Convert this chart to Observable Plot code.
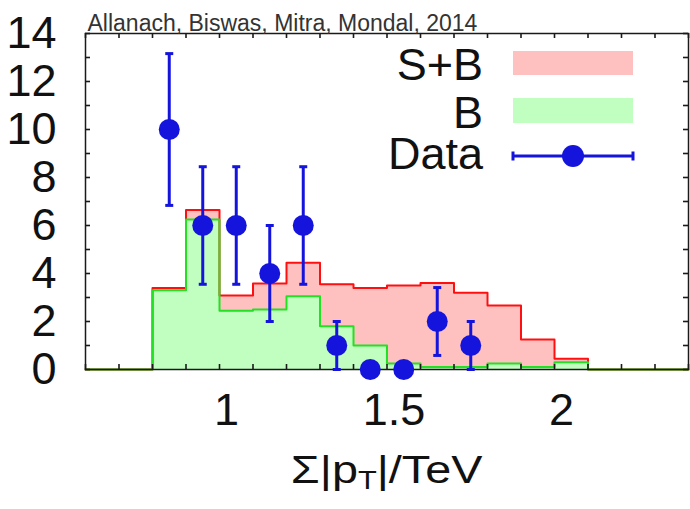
<!DOCTYPE html>
<html>
<head>
<meta charset="utf-8">
<script src="https://cdn.jsdelivr.net/npm/d3@7"></script>
<script src="https://cdn.jsdelivr.net/npm/@observablehq/plot@0.6"></script>
<style>
  html, body { margin: 0; padding: 0; background: #fff; }
  #wrap { position: relative; width: 690px; height: 509px; font-family: "Liberation Sans", Arial, sans-serif; }
  #xlabel { position: absolute; left: 85px; width: 603px; top: 449px; text-align: center; font-size: 38px; color: #111; transform: scaleX(1.23); transform-origin: 301px 0; }
  #xlabel sub { font-size: 25px; vertical-align: -0.25em; line-height: 0; }
  .leg { position: absolute; }
  .legtxt { position: absolute; font-size: 45px; color: #111; text-align: right; width: 200px; left: 283px; line-height: 40px; height: 40px; }
</style>
</head>
<body>
<div id="wrap">
  <div id="chart"></div>
  <div id="xlabel">Σ|p<sub>T</sub>|/TeV</div>
  <div id="legend"></div>
</div>
<script>
// Bin lower edges (TeV), width 0.1
const binEdges = [0.6,0.7,0.8,0.9,1.0,1.1,1.2,1.3,1.4,1.5,1.6,1.7,1.8,1.9,2.0,2.1,2.2,2.3,2.4];
// S+B histogram (events per bin)
const sbValues = [0,0,3.4,6.65,3.08,3.58,4.45,3.55,3.4,3.5,3.6,3.2,2.67,1.25,0.45,0,0,0];
// B histogram
const bValues  = [0,0,3.3,6.25,2.45,2.5,3.05,1.8,1.0,0.25,0.1,0.1,0.25,0.1,0.3,0,0,0];
// Data points (bin centres), counts and errors sqrt(N)
const dataX = [0.85,0.95,1.05,1.15,1.25,1.35,1.45,1.55,1.65,1.75];
const dataN = [10,6,6,4,6,1,0,0,2,1];
const yTicks = [0,2,4,6,8,10,12,14];
const xTickLabels = [1,1.5,2];
const legendLabels = ["S+B","B","Data"];

const pink = "#ffc0c0", lightGreen = "#c0ffc0", red = "#ff1010", green = "#22e022", blue = "#1414dc";

function steps(vals) {
  const pts = vals.map((v, i) => ({x: binEdges[i], y: v}));
  pts.push({x: binEdges[vals.length], y: vals[vals.length - 1]});
  return pts;
}
const sb = steps(sbValues);
const bg = steps(bValues);
const data = dataX.map((x, i) => ({x, n: dataN[i], err: Math.sqrt(dataN[i])}));
const withErr = data.filter(d => d.err > 0);

const capSymbol = {
  draw(ctx, size) { const w = Math.sqrt(size / Math.PI); ctx.moveTo(-w, 0); ctx.lineTo(w, 0); }
};

const minorX = d3.range(6, 25).map(d => d / 10);
const minorY = d3.range(0, 15);
const W = 690, H = 445, mL = 85, mR = 2, mT = 33, mB = 76;
const fw = W - mL - mR, fh = H - mT - mB;
const tk = 5, axisColor = "#1a1a1a";

const plot = Plot.plot({
  width: W, height: H,
  marginLeft: mL, marginRight: mR, marginTop: mT, marginBottom: mB,
  style: {fontFamily: "Liberation Sans, Arial, sans-serif", color: "#111", background: "white"},
  x: {domain: [0.6, 2.4], axis: null},
  y: {domain: [0, 14], axis: null},
  marks: [
    Plot.areaY(sb, {x: "x", y: "y", curve: "step-after", fill: pink}),
    Plot.areaY(bg, {x: "x", y: "y", curve: "step-after", fill: lightGreen}),
    Plot.lineY(sb, {x: "x", y: "y", curve: "step-after", stroke: red, strokeWidth: 2}),
    Plot.lineY(bg, {x: "x", y: "y", curve: "step-after", stroke: green, strokeWidth: 2}),
    Plot.frame({stroke: axisColor, strokeWidth: 1.5}),
    // inward minor ticks on all four sides
    Plot.ruleX(minorX, {x: d => d, y1: 0, y2: 14 * tk / fh, stroke: axisColor, strokeWidth: 1.6}),
    Plot.ruleX(minorX, {x: d => d, y1: 14, y2: 14 - 14 * tk / fh, stroke: axisColor, strokeWidth: 1.6}),
    Plot.ruleY(minorY, {y: d => d, x1: 0.6, x2: 0.6 + 1.8 * tk / fw, stroke: axisColor, strokeWidth: 1.6}),
    Plot.ruleY(minorY, {y: d => d, x1: 2.4, x2: 2.4 - 1.8 * tk / fw, stroke: axisColor, strokeWidth: 1.6}),
    Plot.axisY({anchor: "left", ticks: yTicks, tickSize: 0, tickPadding: 29, fontSize: 45, label: null, fill: "#111"}),
    Plot.axisX({anchor: "bottom", ticks: xTickLabels, tickSize: 0, tickPadding: 24, dx: 7, fontSize: 45, label: null, fill: "#111", tickFormat: d => String(d)}),
    Plot.ruleX(withErr, {x: "x", y1: d => d.n - d.err, y2: d => d.n + d.err, stroke: blue, strokeWidth: 3}),
    Plot.dot(withErr, {x: "x", y: d => d.n + d.err, symbol: capSymbol, r: 4, stroke: blue, strokeWidth: 3}),
    Plot.dot(withErr, {x: "x", y: d => d.n - d.err, symbol: capSymbol, r: 4, stroke: blue, strokeWidth: 3}),
    Plot.dot(data, {x: "x", y: "n", r: 10.5, fill: blue}),
    Plot.text(["Allanach, Biswas, Mitra, Mondal, 2014"], {frameAnchor: "top-left", text: d => d, dx: 2, dy: -3, lineAnchor: "bottom", textAnchor: "start", fontSize: 23, fill: "#333"})
  ]
});
document.getElementById("chart").appendChild(plot);

// Legend
const legend = document.getElementById("legend");
const rows = [
  {label: legendLabels[0], top: 44.5},
  {label: legendLabels[1], top: 92.5},
  {label: legendLabels[2], top: 134}
];
rows.forEach(r => {
  const t = document.createElement("div");
  t.className = "legtxt";
  t.style.top = r.top + "px";
  t.textContent = r.label;
  legend.appendChild(t);
});
const sw1 = document.createElement("div");
sw1.className = "leg";
Object.assign(sw1.style, {left: "513px", top: "51px", width: "120px", height: "24px", background: pink});
legend.appendChild(sw1);
const sw2 = document.createElement("div");
sw2.className = "leg";
Object.assign(sw2.style, {left: "513px", top: "98px", width: "120px", height: "25px", background: lightGreen});
legend.appendChild(sw2);
const ns = "http://www.w3.org/2000/svg";
const ds = document.createElementNS(ns, "svg");
ds.setAttribute("width", "130"); ds.setAttribute("height", "30");
ds.style.position = "absolute"; ds.style.left = "508px"; ds.style.top = "141px";
ds.innerHTML = `<line x1="5" y1="15" x2="125" y2="15" stroke="${blue}" stroke-width="3"/>
<line x1="5" y1="10.5" x2="5" y2="19.5" stroke="${blue}" stroke-width="3"/>
<line x1="125" y1="10.5" x2="125" y2="19.5" stroke="${blue}" stroke-width="3"/>
<circle cx="65" cy="15" r="11" fill="${blue}"/>`;
legend.appendChild(ds);
</script>
</body>
</html>
